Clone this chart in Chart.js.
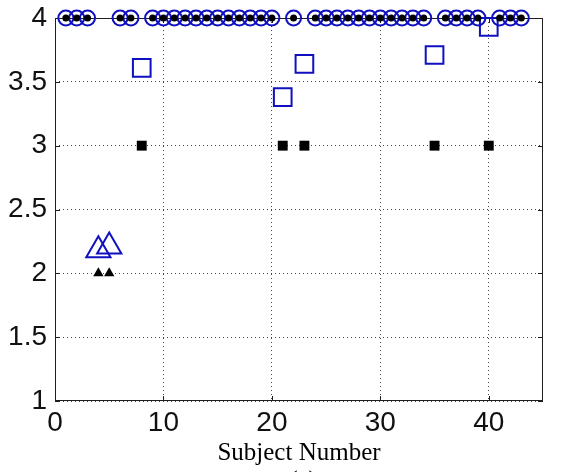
<!DOCTYPE html>
<html>
<head>
<meta charset="utf-8">
<script src="https://cdn.jsdelivr.net/npm/chart.js@4/dist/chart.umd.min.js"></script>
<style>
  html, body { margin: 0; padding: 0; background: #fff; }
  #wrap { width: 566px; height: 472px; }
</style>
</head>
<body>
<div id="wrap"><canvas id="chart" width="566" height="472"></canvas></div>
<script>
// Subjects whose actual score is 4 (black dot, blue circle)
const circleSubjects = [1, 2, 3, 6, 7, 9, 10, 11, 12, 13, 14, 15, 16, 17, 18, 19, 20, 22,
  24, 25, 26, 27, 28, 29, 30, 31, 32, 33, 34, 36, 37, 38, 39, 41, 42, 43];
const circleActual = [4, 4, 4, 4, 4, 4, 4, 4, 4, 4, 4, 4, 4, 4, 4, 4, 4, 4,
  4, 4, 4, 4, 4, 4, 4, 4, 4, 4, 4, 4, 4, 4, 4, 4, 4, 4];
const circlePredicted = [4, 4, 4, 4, 4, 4, 4, 4, 4, 4, 4, 4, 4, 4, 4, 4, 4, 4,
  4, 4, 4, 4, 4, 4, 4, 4, 4, 4, 4, 4, 4, 4, 4, 4, 4, 4];

// Subjects whose actual score is 3 (black square, blue square)
const squareSubjects = [8, 21, 23, 35, 40];
const squareActual = [3, 3, 3, 3, 3];
const squarePredicted = [3.61, 3.38, 3.64, 3.71, 3.93];

// Subjects whose actual score is 2 (black triangle, blue triangle)
const triangleSubjects = [4, 5];
const triangleActual = [2, 2];
const trianglePredicted = [2.18, 2.21];

const xTicks = [0, 10, 20, 30, 40];
const yTicks = [1, 1.5, 2, 2.5, 3, 3.5, 4];

const BLUE = "#1010c0";
const INK = "#1e1e1e";

function pts(xs, ys) {
  return xs.map((x, i) => ({ x: x, y: ys[i] }));
}

// Box around the axes plus short inward tick marks (MATLAB style)
const boxPlugin = {
  id: "box",
  beforeDatasetsDraw(chart) {
    const { ctx, chartArea: a, scales } = chart;
    ctx.save();
    ctx.strokeStyle = INK;
    ctx.lineWidth = 1;
    ctx.setLineDash([]);
    ctx.strokeRect(a.left + 0.5, a.top + 0.5, a.right - a.left - 1, a.bottom - a.top - 1);
    const tl = 5;
    ctx.beginPath();
    xTicks.forEach(v => {
      const px = Math.round(scales.x.getPixelForValue(v)) + 0.5;
      ctx.moveTo(px, a.bottom); ctx.lineTo(px, a.bottom - tl);
      ctx.moveTo(px, a.top); ctx.lineTo(px, a.top + tl);
    });
    yTicks.forEach(v => {
      const py = Math.round(scales.y.getPixelForValue(v)) + 0.5;
      ctx.moveTo(a.left, py); ctx.lineTo(a.left + tl, py);
      ctx.moveTo(a.right, py); ctx.lineTo(a.right - tl, py);
    });
    ctx.stroke();
    ctx.restore();
  },
  afterDraw(chart) {
    const { ctx, chartArea: a } = chart;
    ctx.save();
    ctx.fillStyle = "#000";
    ctx.font = "25px 'Liberation Serif', 'Times New Roman', serif";
    ctx.textAlign = "center";
    ctx.textBaseline = "middle";
    ctx.fillText("(a)", (a.left + a.right) / 2 + 4, 481);
    ctx.restore();
  }
};

const ctx = document.getElementById("chart").getContext("2d");
new Chart(ctx, {
  type: "scatter",
  data: {
    datasets: [
      {
        label: "Actual (4)",
        data: pts(circleSubjects, circleActual),
        pointStyle: "circle",
        pointRadius: 3.5,
        backgroundColor: "#000",
        borderColor: "#000",
        borderWidth: 0,
        clip: false,
      },
      {
        label: "Actual (3)",
        data: pts(squareSubjects, squareActual),
        pointStyle: "rect",
        pointRadius: 7,
        backgroundColor: "#000",
        borderColor: "#000",
        borderWidth: 0,
        clip: false,
      },
      {
        label: "Actual (2)",
        data: pts(triangleSubjects, triangleActual),
        pointStyle: "triangle",
        pointRadius: 6,
        backgroundColor: "#000",
        borderColor: "#000",
        borderWidth: 0,
        clip: false,
      },
      {
        label: "Predicted (4)",
        data: pts(circleSubjects, circlePredicted),
        pointStyle: "circle",
        pointRadius: 7.5,
        backgroundColor: "rgba(0,0,0,0)",
        borderColor: BLUE,
        borderWidth: 2,
        clip: false,
      },
      {
        label: "Predicted (3)",
        data: pts(squareSubjects, squarePredicted),
        pointStyle: "rect",
        pointRadius: 12.5,
        backgroundColor: "rgba(0,0,0,0)",
        borderColor: BLUE,
        borderWidth: 2,
        clip: false,
      },
      {
        label: "Predicted (2)",
        data: pts(triangleSubjects, trianglePredicted),
        pointStyle: "triangle",
        pointRadius: 14,
        backgroundColor: "rgba(0,0,0,0)",
        borderColor: BLUE,
        borderWidth: 2,
        clip: false,
      },
    ],
  },
  options: {
    responsive: false,
    animation: false,
    events: [],
    layout: { padding: { top: 18, right: 23, left: 0, bottom: 0 } },
    plugins: {
      legend: { display: false },
      tooltip: { enabled: false },
    },
    scales: {
      x: {
        type: "linear",
        min: 0,
        max: 45,
        afterBuildTicks(scale) {
          scale.ticks = xTicks.map(v => ({ value: v }));
        },
        afterFit(scale) {
          scale.height = 71;
          scale.paddingLeft = 0;
          scale.paddingRight = 0;
        },
        ticks: {
          color: "#111",
          padding: 5,
          font: { family: "'Liberation Sans', Arial, sans-serif", size: 28 },
        },
        grid: { color: "#444", lineWidth: 1, drawTicks: false },
        border: { display: false, dash: [1, 3] },
        title: {
          display: true,
          text: "Subject Number",
          color: "#000",
          font: { family: "'Liberation Serif', 'Times New Roman', serif", size: 25 },
          padding: { top: 0, bottom: 4 },
        },
      },
      y: {
        type: "linear",
        min: 1,
        max: 4,
        afterBuildTicks(scale) {
          scale.ticks = yTicks.map(v => ({ value: v }));
        },
        afterFit(scale) {
          scale.width = 55;
          scale.paddingTop = 0;
          scale.paddingBottom = 0;
        },
        ticks: {
          color: "#111",
          padding: 8,
          font: { family: "'Liberation Sans', Arial, sans-serif", size: 28 },
          callback: v => String(v),
        },
        grid: { color: "#444", lineWidth: 1, drawTicks: false },
        border: { display: false, dash: [1, 3] },
      },
    },
  },
  plugins: [boxPlugin],
});
</script>
</body>
</html>
